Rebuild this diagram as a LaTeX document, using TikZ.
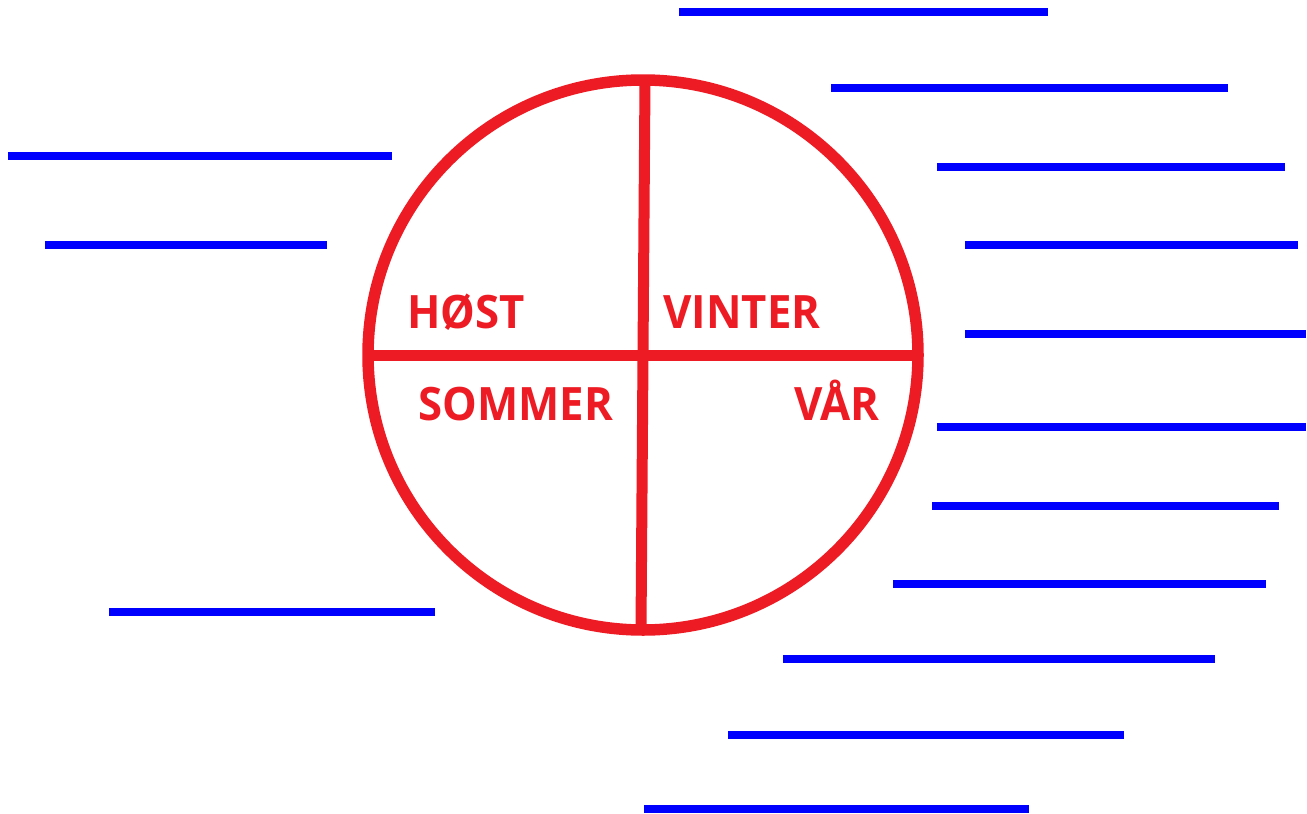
\documentclass[tikz,border=0pt]{standalone}
\usepackage{fontspec}
\setmainfont{Open Sans}
\usepackage{tikz}
\definecolor{ringred}{HTML}{ED1C24}
\definecolor{lineblue}{HTML}{0000FF}
\tikzset{
  ring/.style={draw=ringred, line width=11.5pt},
  cross/.style={draw=ringred, line width=11pt},
  season/.style={text=ringred, font=\fontsize{46}{48}\selectfont\bfseries, inner sep=0pt, anchor=base, xscale=0.95},
  writeline/.style={draw=lineblue, line width=8pt},
}
\begin{document}
\begin{tikzpicture}[x=1pt, y=-1pt]
  \useasboundingbox (0,0) rectangle (1307,814);
  % wheel
  \coordinate (mid) at (643,355);
  \draw[ring] (mid) circle[radius=275];
  \coordinate (top) at (645,80);
  \coordinate (bot) at (641,630);
  \coordinate (lft) at (368,355);
  \coordinate (rgt) at (918,355);
  \draw[cross] (top) -- (bot);
  \draw[cross] (lft) -- (rgt);

  \node[season] (host) at (466,328) {HØST};
  \node[season] (vinter) at (742,328) {VINTER};
  \node[season] (sommer) at (516,420) {SOMMER};
  \node[season] (var) at (837,420) {VÅR};

  % lines to write on
  \foreach \y/\xa/\xb in {12/679/1048, 88/831/1228, 156/8/392, 167/937/1285,
      245/45/327, 245/965/1298, 334/965/1306, 427/937/1306, 506/932/1279,
      584/893/1266, 612/109/435, 659/783/1215, 735/728/1124, 809/644/1029}
    \draw[writeline] (\xa,\y) -- (\xb,\y);
\end{tikzpicture}
\end{document}
